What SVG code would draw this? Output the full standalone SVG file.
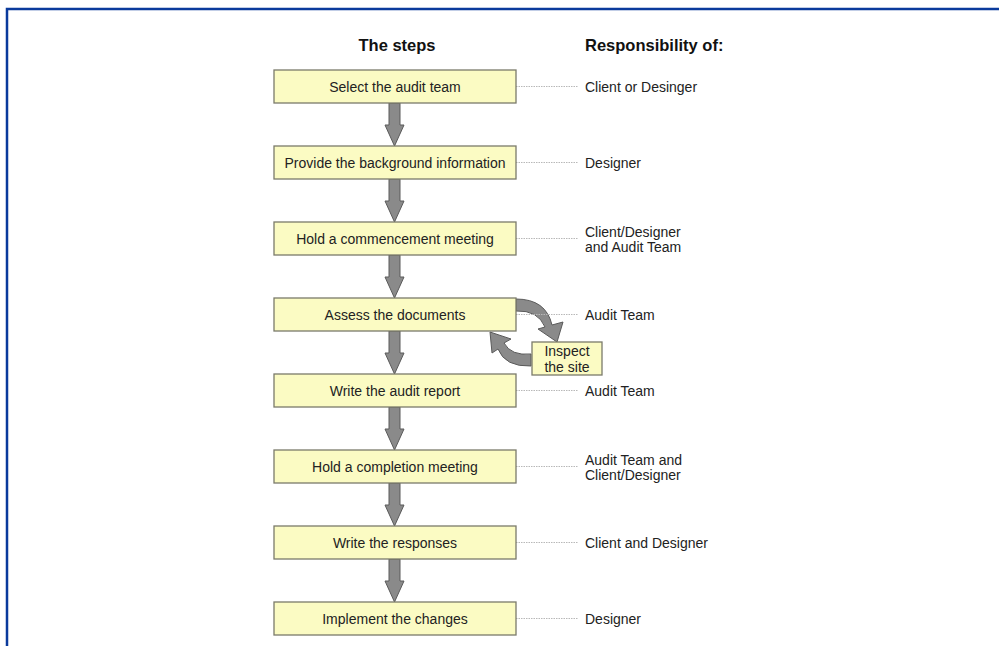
<svg xmlns="http://www.w3.org/2000/svg" width="999" height="646" viewBox="0 0 999 646">
<style>
.bg{fill:#fff}
.frame{stroke:#0a3a9c;stroke-width:2.5;fill:none}
.box{fill:#fbfbc3;stroke:#7a7a6a;stroke-width:1.3}
.t{font-family:"Liberation Sans",Arial,sans-serif;font-size:14px;fill:#222;text-anchor:middle}
.r{font-family:"Liberation Sans",Arial,sans-serif;font-size:14px;fill:#222}
.h{font-family:"Liberation Sans",Arial,sans-serif;font-size:16.5px;font-weight:bold;fill:#111}
.dot{stroke:#b8b8b8;stroke-width:1;stroke-dasharray:1.5 1}
.arr{fill:#8a8a8a;stroke:#5a5a5a;stroke-width:1;stroke-linejoin:miter}
</style>
<defs>
<path id="down" class="arr" d="M-5.5,0 H5.5 V22 H9.5 L0,43 L-9.5,22 H-5.5 Z"/>
</defs>
<rect class="bg" x="0" y="0" width="999" height="646"/>
<path class="frame" d="M7,646 V9 H999"/>
<text class="h" x="397" y="51" text-anchor="middle">The steps</text>
<text class="h" x="585" y="51">Responsibility of:</text>
<g id="connectors">
<use href="#down" x="394.5" y="103"/>
<use href="#down" x="394.5" y="179"/>
<use href="#down" x="394.5" y="255"/>
<use href="#down" x="394.5" y="331"/>
<use href="#down" x="394.5" y="407"/>
<use href="#down" x="394.5" y="483"/>
<use href="#down" x="394.5" y="559"/>
<path class="arr" d="M516,299 Q546,299 552,325 L563,322 L557,342 L538,329 L545,327 Q538,310 516,311 Z"/>
<path class="arr" d="M531,354 Q511,356 504,343 L511,339 L490,332 L492,353 L498,349 Q505,367 531,366 Z"/>
<g class="dot">
<line x1="516" y1="86.5" x2="578" y2="86.5"/>
<line x1="516" y1="162.5" x2="578" y2="162.5"/>
<line x1="516" y1="238.5" x2="578" y2="238.5"/>
<line x1="516" y1="314.5" x2="578" y2="314.5"/>
<line x1="516" y1="390.5" x2="578" y2="390.5"/>
<line x1="516" y1="466.5" x2="578" y2="466.5"/>
<line x1="516" y1="542.5" x2="578" y2="542.5"/>
<line x1="516" y1="618.5" x2="578" y2="618.5"/>
</g>
</g>
<g id="n1"><rect class="box" x="274" y="70" width="242" height="33"/><text class="t" x="395" y="91.5">Select the audit team</text></g>
<g id="n2"><rect class="box" x="274" y="146" width="242" height="33"/><text class="t" x="395" y="167.5">Provide the background information</text></g>
<g id="n3"><rect class="box" x="274" y="222" width="242" height="33"/><text class="t" x="395" y="243.5">Hold a commencement meeting</text></g>
<g id="n4"><rect class="box" x="274" y="298" width="242" height="33"/><text class="t" x="395" y="319.5">Assess the documents</text></g>
<g id="n5"><rect class="box" x="274" y="374" width="242" height="33"/><text class="t" x="395" y="395.5">Write the audit report</text></g>
<g id="n6"><rect class="box" x="274" y="450" width="242" height="33"/><text class="t" x="395" y="471.5">Hold a completion meeting</text></g>
<g id="n7"><rect class="box" x="274" y="526" width="242" height="33"/><text class="t" x="395" y="547.5">Write the responses</text></g>
<g id="n8"><rect class="box" x="274" y="602" width="242" height="33"/><text class="t" x="395" y="623.5">Implement the changes</text></g>
<g id="inspect"><rect class="box" x="532" y="342" width="70" height="33"/><text class="t" x="567" y="355.5">Inspect</text><text class="t" x="567" y="371.5">the site</text></g>
<g id="resp">
<text class="r" x="585" y="91.5">Client or Desinger</text>
<text class="r" x="585" y="167.5">Designer</text>
<text class="r" x="585" y="236.5">Client/Designer</text>
<text class="r" x="585" y="251.5">and Audit Team</text>
<text class="r" x="585" y="319.5">Audit Team</text>
<text class="r" x="585" y="395.5">Audit Team</text>
<text class="r" x="585" y="464.5">Audit Team and</text>
<text class="r" x="585" y="479.5">Client/Designer</text>
<text class="r" x="585" y="547.5">Client and Designer</text>
<text class="r" x="585" y="623.5">Designer</text>
</g>
</svg>
